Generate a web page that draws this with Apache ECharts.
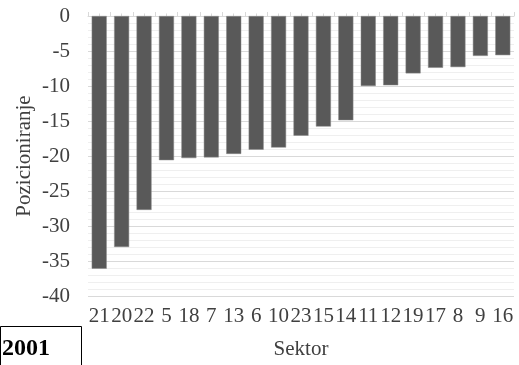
<!DOCTYPE html>
<html><head><meta charset="utf-8">
<script src="https://cdn.jsdelivr.net/npm/echarts@6/dist/echarts.min.js"></script>
<style>html,body{margin:0;padding:0;background:#fff}#c{width:519px;height:365px}</style>
</head><body><div id="c"></div>
<script>
const categories = ['21','20','22','5','18','7','13','6','10','23','15','14','11','12','19','17','8','9','16'];
const values = [-36.1,-33.0,-27.7,-20.6,-20.3,-20.2,-19.7,-19.1,-18.8,-17.1,-15.8,-14.9,-10.0,-9.9,-8.2,-7.4,-7.3,-5.7,-5.6];
const yTitle = 'Pozicioniranje';
const xTitle = 'Sektor';
const boxText = '2001';

const font = 'Liberation Serif';
const chart = echarts.init(document.getElementById('c'), null, {renderer:'canvas'});
chart.setOption({
  animation:false,
  grid:{left:88,right:5,top:16,bottom:66},
  xAxis:[
    {type:'category',data:categories,position:'bottom',
     axisLine:{show:false,onZero:false},axisTick:{show:false},
     axisLabel:{color:'#404040',fontFamily:font,fontSize:21,margin:10,interval:0},
     name:xTitle,nameLocation:'middle',nameGap:43,nameMoveOverlap:false,
     nameTextStyle:{color:'#404040',fontFamily:font,fontSize:21}},
    {type:'category',data:categories,position:'top',
     axisLine:{show:true,onZero:false,lineStyle:{color:'#d9d9d9',width:1}},
     axisTick:{show:true,length:4,lineStyle:{color:'#d9d9d9'}},
     axisLabel:{show:false}},
    {type:'category',data:categories,position:'top',
     axisLine:{show:false,onZero:false},
     axisTick:{show:true,length:2.5,alignWithLabel:true,lineStyle:{color:'#d9d9d9'}},
     axisLabel:{show:false}}
  ],
  yAxis:{type:'value',min:-40,max:0,interval:5,
    axisLine:{show:false},axisTick:{show:false},
    axisLabel:{color:'#404040',fontFamily:font,fontSize:21,margin:18},
    splitLine:{lineStyle:{color:'#d9d9d9',width:1}},
    minorTick:{show:false,splitNumber:5},
    minorSplitLine:{show:true,lineStyle:{color:'#efefef',width:1}},
    name:yTitle,nameLocation:'middle',nameGap:53,nameRotate:90,nameMoveOverlap:false,
    nameTextStyle:{color:'#404040',fontFamily:font,fontSize:21}},
  series:[{type:'bar',data:values,xAxisIndex:0,barCategoryGap:'33%',
    itemStyle:{color:'#595959',borderColor:'#8a8a8a',borderWidth:0.5}}],
  graphic:[
    {type:'rect',shape:{x:0.5,y:326.5,width:81,height:50},style:{fill:'#fff',stroke:'#000',lineWidth:1}},
    {type:'text',left:2,top:337,style:{text:boxText,font:'bold 24px "Liberation Serif"',fill:'#000'}}
  ]
});
</script></body></html>
